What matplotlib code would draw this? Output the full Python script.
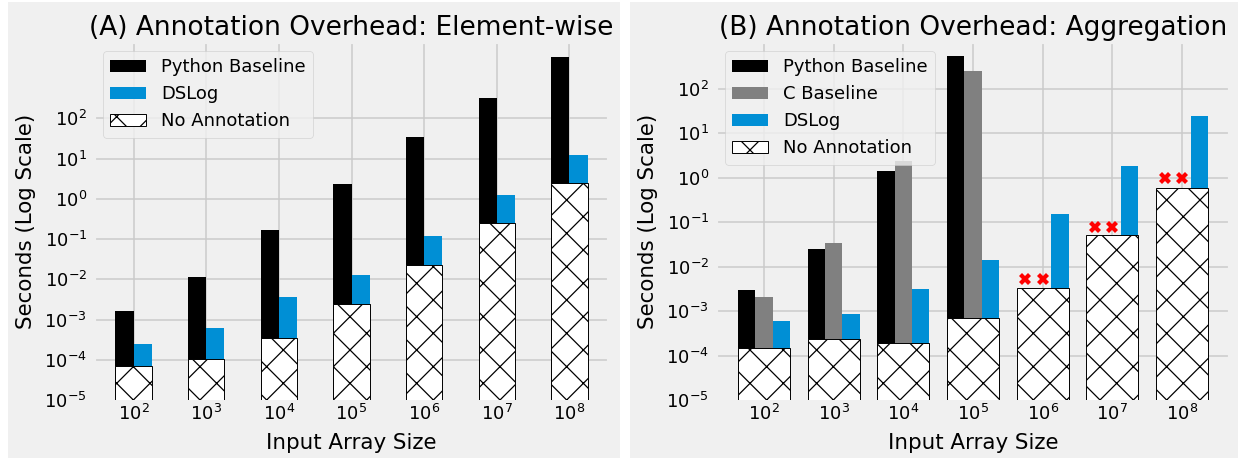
import matplotlib
matplotlib.use('Agg')
import matplotlib.pyplot as plt
import matplotlib.patches as mpatches
import numpy as np

# input array sizes (exponents)
exps = [2, 3, 4, 5, 6, 7, 8]
xlabels = [r'$10^{%d}$' % e for e in exps]

# (A) element-wise, seconds
a_python = [1.6e-3, 1.16e-2, 0.17, 2.4, 34.0, 330.0, 3400.0]
a_dslog = [2.5e-4, 6.0e-4, 3.6e-3, 0.0126, 0.117, 1.22, 12.0]
a_noann = [7.0e-5, 1.05e-4, 3.4e-4, 2.5e-3, 0.023, 0.256, 2.43]

# (B) aggregation, seconds (nan = did not finish)
b_python = [2.9e-3, 0.0255, 1.39, 530.0, np.nan, np.nan, np.nan]
b_c = [2.1e-3, 0.0336, 2.33, 253.0, np.nan, np.nan, np.nan]
b_dslog = [6.0e-4, 8.6e-4, 3.1e-3, 0.014, 0.153, 1.8, 24.3]
b_noann = [1.45e-4, 2.4e-4, 1.95e-4, 7.0e-4, 3.35e-3, 0.052, 0.6]
b_missing = [np.nan, np.nan, np.nan, np.nan, 5.2e-3, 0.078, 1.0]

plt.style.use('fivethirtyeight')
plt.rcParams['font.family'] = ['DejaVu Sans']
plt.rcParams['hatch.linewidth'] = 0.9
plt.rcParams['grid.linewidth'] = 1.1
plt.rcParams['xtick.major.pad'] = 3
plt.rcParams['ytick.major.pad'] = 5

blue = '#008fd5'
grey = '#808080'

fig = plt.figure(figsize=(12.38, 4.58), dpi=100, facecolor='white')
# grey panel backgrounds
fig.patches.append(mpatches.Rectangle((8/1238., 0), 612/1238., 456/458., transform=fig.transFigure,
                                      facecolor='#f0f0f0', edgecolor='none', zorder=-10))
fig.patches.append(mpatches.Rectangle((630/1238., 0), 608/1238., 456/458., transform=fig.transFigure,
                                      facecolor='#f0f0f0', edgecolor='none', zorder=-10))

ax1 = fig.add_axes([94/1238., 58/458., 515/1238., 358/458.])
ax2 = fig.add_axes([716/1238., 58/458., 514/1238., 358/458.])

x = np.arange(len(exps))
w = 0.25

# panel A
ax1.bar(x - w/2, a_python, w, color='black', linewidth=0, label='Python Baseline', zorder=2)
ax1.bar(x + w/2, a_dslog, w, color=blue, linewidth=0, label='DSLog', zorder=2)
ax1.bar(x, a_noann, 2*w, color='white', edgecolor='black', linewidth=0.7, hatch='x',
        label='No Annotation', zorder=3)

# panel B
ax2.bar(x - w, b_python, w, color='black', linewidth=0, label='Python Baseline', zorder=2)
ax2.bar(x, b_c, w, color=grey, linewidth=0, label='C Baseline', zorder=2)
ax2.bar(x + w, b_dslog, w, color=blue, linewidth=0, label='DSLog', zorder=2)
ax2.bar(x, b_noann, 3*w, color='white', edgecolor='black', linewidth=0.7, hatch='x',
        label='No Annotation', zorder=3)
ax2.plot(x - w, b_missing, 'X', color='red', markersize=8.5, markeredgewidth=0, zorder=4)
ax2.plot(x, b_missing, 'X', color='red', markersize=8.5, markeredgewidth=0, zorder=4)

titles = ['(A) Annotation Overhead: Element-wise', '(B) Annotation Overhead: Aggregation']
tops = [10**3.9, 10**3.05]
xl = [(-0.545, 6.545), (-0.69, 6.69)]
for ax, t, top, lim in zip([ax1, ax2], titles, tops, xl):
    ax.set_yscale('log')
    ax.set_ylim(1e-5, top)
    ax.set_xlim(lim)
    ax.set_yticks([1e-5, 1e-4, 1e-3, 1e-2, 1e-1, 1e0, 1e1, 1e2])
    ax.minorticks_off()
    ax.set_xticks(x)
    ax.set_xticklabels(xlabels)
    ax.tick_params(labelsize=13)
    ax.set_axisbelow(True)
    ax.set_title(t, fontsize=19, pad=5)
    ax.set_xlabel('Input Array Size', fontsize=15.4, labelpad=6)
    ax.set_ylabel('Seconds (Log Scale)', fontsize=15.4, labelpad=6)
    ax.legend(loc='upper left', fontsize=13)

fig.savefig('out.png', dpi=100, facecolor='white')
